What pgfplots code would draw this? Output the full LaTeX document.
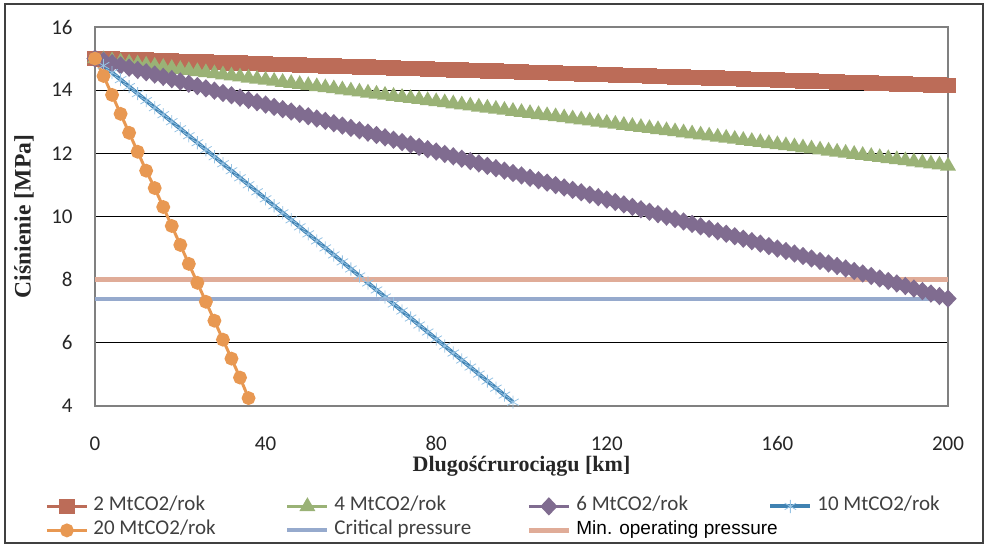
\documentclass[border=0pt]{standalone}
\usepackage{fontspec}
\setmainfont{Carlito}
\newfontfamily\labelfont{Liberation Serif}
\newfontfamily\arialfont{Liberation Sans}
\usepackage{pgfplots}
\pgfplotsset{compat=1.18}
\usepackage{pgfplotstable}

\definecolor{c2}{RGB}{188,108,88}
\definecolor{c4}{RGB}{154,178,118}
\definecolor{c6}{RGB}{128,108,144}
\definecolor{c10}{RGB}{64,130,178}
\definecolor{c10m}{RGB}{150,195,228}
\definecolor{c20}{RGB}{232,152,82}
\definecolor{ccrit}{RGB}{150,170,205}
\definecolor{cmin}{RGB}{224,172,152}

% pressure along the pipeline, 2 / 4 / 6 MtCO2 per year
\pgfplotstableread{
x p2 p4 p6
0 15.000 15.000 15.000
2 14.992 14.966 14.928
4 14.983 14.932 14.856
6 14.975 14.898 14.784
8 14.966 14.864 14.711
10 14.958 14.830 14.639
12 14.949 14.796 14.567
14 14.941 14.762 14.494
16 14.932 14.728 14.421
18 14.924 14.694 14.349
20 14.915 14.660 14.276
22 14.907 14.626 14.203
24 14.898 14.592 14.130
26 14.890 14.558 14.057
28 14.881 14.524 13.984
30 14.873 14.490 13.911
32 14.864 14.456 13.838
34 14.856 14.422 13.764
36 14.847 14.388 13.691
38 14.839 14.354 13.618
40 14.830 14.320 13.544
42 14.822 14.286 13.470
44 14.813 14.252 13.397
46 14.805 14.218 13.323
48 14.796 14.184 13.249
50 14.788 14.150 13.175
52 14.779 14.116 13.101
54 14.771 14.082 13.027
56 14.762 14.048 12.953
58 14.754 14.014 12.878
60 14.745 13.980 12.804
62 14.737 13.946 12.730
64 14.728 13.912 12.655
66 14.720 13.878 12.580
68 14.711 13.844 12.506
70 14.703 13.810 12.431
72 14.694 13.776 12.356
74 14.686 13.742 12.281
76 14.677 13.708 12.206
78 14.669 13.674 12.131
80 14.660 13.640 12.056
82 14.652 13.606 11.981
84 14.643 13.572 11.905
86 14.635 13.538 11.830
88 14.626 13.504 11.755
90 14.618 13.470 11.679
92 14.609 13.436 11.603
94 14.601 13.402 11.528
96 14.592 13.368 11.452
98 14.584 13.334 11.376
100 14.575 13.300 11.300
102 14.567 13.266 11.224
104 14.558 13.232 11.148
106 14.550 13.198 11.072
108 14.541 13.164 10.995
110 14.533 13.130 10.919
112 14.524 13.096 10.843
114 14.516 13.062 10.766
116 14.507 13.028 10.689
118 14.499 12.994 10.613
120 14.490 12.960 10.536
122 14.482 12.926 10.459
124 14.473 12.892 10.382
126 14.465 12.858 10.305
128 14.456 12.824 10.228
130 14.448 12.790 10.151
132 14.439 12.756 10.074
134 14.431 12.722 9.996
136 14.422 12.688 9.919
138 14.414 12.654 9.842
140 14.405 12.620 9.764
142 14.397 12.586 9.686
144 14.388 12.552 9.609
146 14.380 12.518 9.531
148 14.371 12.484 9.453
150 14.363 12.450 9.375
152 14.354 12.416 9.297
154 14.346 12.382 9.219
156 14.337 12.348 9.141
158 14.329 12.314 9.062
160 14.320 12.280 8.984
162 14.312 12.246 8.906
164 14.303 12.212 8.827
166 14.295 12.178 8.748
168 14.286 12.144 8.670
170 14.278 12.110 8.591
172 14.269 12.076 8.512
174 14.261 12.042 8.433
176 14.252 12.008 8.354
178 14.244 11.974 8.275
180 14.235 11.940 8.196
182 14.227 11.906 8.117
184 14.218 11.872 8.037
186 14.210 11.838 7.958
188 14.201 11.804 7.879
190 14.193 11.770 7.799
192 14.184 11.736 7.719
194 14.176 11.702 7.640
196 14.167 11.668 7.560
198 14.159 11.634 7.480
200 14.150 11.600 7.400
}\lowflow

% 10 MtCO2 per year
\pgfplotstableread{
x p
0 15.000
2 14.778
4 14.556
6 14.334
8 14.112
10 13.890
12 13.668
14 13.446
16 13.224
18 13.002
20 12.780
22 12.558
24 12.336
26 12.114
28 11.892
30 11.670
32 11.448
34 11.226
36 11.004
38 10.782
40 10.560
42 10.338
44 10.116
46 9.894
48 9.672
50 9.450
52 9.228
54 9.006
56 8.784
58 8.562
60 8.340
62 8.118
64 7.896
66 7.674
68 7.452
70 7.230
72 7.008
74 6.786
76 6.564
78 6.342
80 6.120
82 5.898
84 5.676
86 5.454
88 5.232
90 5.010
92 4.788
94 4.566
96 4.344
98 4.122
}\tenmt

% 20 MtCO2 per year
\pgfplotstableread{
x p
0 15.00
2 14.45
4 13.85
6 13.25
8 12.65
10 12.05
12 11.45
14 10.90
16 10.30
18 9.70
20 9.10
22 8.50
24 7.90
26 7.30
28 6.70
30 6.10
32 5.50
34 4.90
36 4.25
}\twentymt

\begin{document}
\begin{tikzpicture}
\begin{axis}[
  scale only axis,
  width=426.5pt, height=189.5pt,
  xmin=0, xmax=200, ymin=4, ymax=16,
  xtick={0,40,...,200}, ytick={4,6,...,16},
  major tick length=0pt,
  ymajorgrids,
  grid style={black, line width=0.5pt},
  axis line style={black!50, line width=0.6pt},
  /pgf/number format/assume math mode=true,
  tick label style={font=\fontsize{10.5}{12}\selectfont, text=black!85},
  yticklabel style={inner sep=0pt, xshift=-11pt},
  xticklabel style={inner sep=0pt, yshift=-15pt},
  xlabel={Dlugośćrurociągu [km]},
  ylabel={Ciśnienie [MPa]},
  label style={text=black!85},
  xlabel style={font=\labelfont\bfseries\fontsize{11}{12}\selectfont, at={([yshift=-30pt]axis description cs:0.5,0)}, anchor=center},
  ylabel style={font=\labelfont\bfseries\fontsize{11.8}{12}\selectfont, at={([xshift=-35.5pt]axis description cs:0,0.5)}, anchor=center},
  legend columns=4,
  legend cell align=left,
  legend style={at={([xshift=-25pt,yshift=-44pt]axis description cs:0,0)}, anchor=north west,
    draw=none, fill=none, inner sep=0pt, column sep=2.5pt, row sep=0pt,
    nodes={inner sep=0pt, text height=8pt, text depth=4pt},
    font=\fontsize{10.5}{12}\selectfont, text=black!75},
  legend image code/.code={\draw[mark repeat=2,mark phase=2,#1] plot coordinates {(0pt,0pt) (10pt,0pt) (20pt,0pt)};},
]
\addplot[c2, line width=1.5pt, mark=square*, mark size=3.1pt] table[x=x,y=p2] {\lowflow};
\addlegendentry{\makebox[93.5pt][l]{2 MtCO2/rok}}
\addplot[c4, line width=1.5pt, mark=triangle*, mark size=3.1pt] table[x=x,y=p4] {\lowflow};
\addlegendentry{\makebox[93.5pt][l]{4 MtCO2/rok}}
\addplot[c6, line width=1.5pt, mark=diamond*, mark size=3.5pt, mark options={xscale=1.25}] table[x=x,y=p6] {\lowflow};
\addlegendentry{\makebox[93.5pt][l]{6 MtCO2/rok}}
\addplot[c10, line width=2pt, mark=asterisk, mark size=3.3pt, mark options={c10m, line width=0.4pt}] table[x=x,y=p] {\tenmt};
\addlegendentry{\makebox[70pt][l]{10 MtCO2/rok}}
\addplot[c20, line width=1.5pt, mark=*, mark size=2.7pt] table[x=x,y=p] {\twentymt};
\addlegendentry{\makebox[93.5pt][l]{20 MtCO2/rok}}
\addplot[ccrit, line width=2pt] coordinates {(0,7.38) (200,7.38)};
\addlegendentry{\makebox[93.5pt][l]{Critical pressure}}
\addplot[cmin, line width=2.5pt] coordinates {(0,8) (200,8)};
\addlegendentry{\makebox[93.5pt][l]{\arialfont\fontsize{9.5}{12}\selectfont\color{black}Min. operating pressure}}
\end{axis}
\draw[black!75, line width=1pt]
  ([shift={(-45pt,-68.5pt)}]current axis.south west) rectangle
  ([shift={(444pt,201pt)}]current axis.south west);
\path ([shift={(-47.5pt,-70pt)}]current axis.south west) rectangle
  ([shift={(445.5pt,203pt)}]current axis.south west);
\end{tikzpicture}
\end{document}
